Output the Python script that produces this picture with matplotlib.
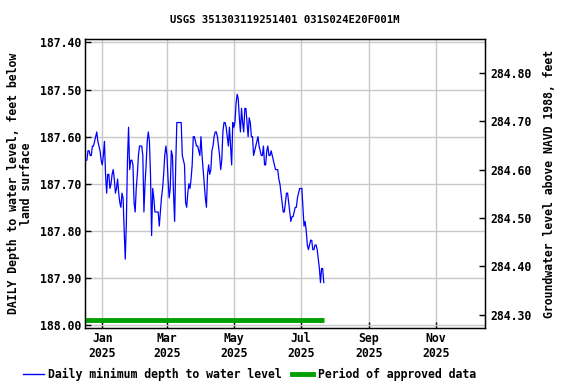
import matplotlib
matplotlib.use("Agg")
import matplotlib.pyplot as plt
import matplotlib.dates as mdates
from matplotlib.lines import Line2D
import pandas as pd
import numpy as np

title = "USGS 351303119251401 031S024E20F001M"
start_date = "2024-12-17"
depth = [
    187.65, 187.65, 187.63, 187.63, 187.64, 187.64, 187.62, 187.62, 187.61, 187.60,
    187.59, 187.61, 187.62, 187.63, 187.65, 187.66, 187.64, 187.61, 187.68, 187.72,
    187.68, 187.68, 187.71, 187.70, 187.68, 187.67, 187.69, 187.72, 187.71, 187.69,
    187.72, 187.74, 187.75, 187.72, 187.73, 187.80, 187.86, 187.78, 187.65, 187.58,
    187.67, 187.65, 187.65, 187.66, 187.74, 187.76, 187.71, 187.68, 187.64, 187.62,
    187.62, 187.62, 187.64, 187.76, 187.70, 187.66, 187.61, 187.59, 187.61, 187.68,
    187.81, 187.71, 187.73, 187.76, 187.76, 187.76, 187.76, 187.79, 187.76, 187.73,
    187.71, 187.68, 187.64, 187.62, 187.64, 187.69, 187.73, 187.71, 187.63, 187.64,
    187.72, 187.78, 187.66, 187.57, 187.57, 187.57, 187.57, 187.57, 187.64, 187.65,
    187.66, 187.74, 187.75, 187.72, 187.70, 187.71, 187.69, 187.66, 187.60, 187.60,
    187.61, 187.62, 187.62, 187.63, 187.64, 187.60, 187.64, 187.67, 187.70, 187.73,
    187.75, 187.68, 187.66, 187.68, 187.67, 187.63, 187.62, 187.60, 187.59, 187.59,
    187.60, 187.62, 187.64, 187.67, 187.65, 187.59, 187.57, 187.57, 187.58, 187.60,
    187.62, 187.58, 187.62, 187.66, 187.57, 187.58, 187.57, 187.53, 187.51, 187.52,
    187.56, 187.59, 187.54, 187.57, 187.59, 187.54, 187.54, 187.57, 187.60, 187.56,
    187.57, 187.60, 187.60, 187.64, 187.63, 187.62, 187.61, 187.60, 187.62, 187.63,
    187.64, 187.64, 187.62, 187.66, 187.66, 187.63, 187.62, 187.64, 187.64, 187.63,
    187.64, 187.65, 187.66, 187.67, 187.67, 187.67, 187.69, 187.70, 187.72, 187.74,
    187.76, 187.76, 187.74, 187.72, 187.72, 187.74, 187.76, 187.78, 187.77, 187.77,
    187.76, 187.75, 187.75, 187.73, 187.72, 187.71, 187.71, 187.71, 187.75, 187.79,
    187.78, 187.80, 187.83, 187.84, 187.83, 187.82, 187.82, 187.84, 187.84, 187.83,
    187.83, 187.84, 187.86, 187.88, 187.91, 187.88, 187.88, 187.91,
]
approved_start = "2024-12-16"
approved_end = "2025-07-22"
approved_level = 187.99

left_ticks = [187.40, 187.50, 187.60, 187.70, 187.80, 187.90, 188.00]
right_ticks = [284.30, 284.40, 284.50, 284.60, 284.70, 284.80]
x_tick_dates = ["2025-01-01", "2025-03-01", "2025-05-01", "2025-07-01", "2025-09-01", "2025-11-01"]

dates = pd.date_range(start_date, periods=len(depth), freq="D")

mono = "DejaVu Sans Mono"
fs = 8.3

fig = plt.figure(figsize=(5.76, 3.84), dpi=100)
ax = fig.add_axes([0.148, 0.145, 0.694, 0.753])

ax.plot(dates, depth, color="#0000ff", lw=0.9, zorder=3)
ax.plot(pd.to_datetime([approved_start, approved_end]), [approved_level, approved_level],
        color="#00a000", lw=3.5, solid_capstyle="butt", zorder=4)

ax.set_xlim(pd.Timestamp("2024-12-16 12:00"), pd.Timestamp("2025-12-16"))
ax.set_ylim(188.007, 187.393)
ax.set_yticks(left_ticks)
ax.set_yticklabels([f"{v:.2f}" for v in left_ticks], fontfamily=mono, fontweight="bold", fontsize=fs)
ax.set_xticks(pd.to_datetime(x_tick_dates))
ax.set_xticklabels([pd.Timestamp(d).strftime("%b\n%Y") for d in x_tick_dates],
                   fontfamily=mono, fontweight="bold", fontsize=fs)
ax.grid(True, color="#c8c8c8", lw=1.0)
ax.set_axisbelow(True)
ax.tick_params(direction="in", length=4, width=1, pad=3)
for s in ax.spines.values():
    s.set_linewidth(1.0)

ax.set_ylabel("DAILY Depth to water level, feet below\nland surface", fontfamily=mono,
              fontweight="bold", fontsize=fs, labelpad=5, linespacing=1.0)

ax2 = ax.twinx()
ax2.set_ylim(284.272, 284.870)
ax2.set_yticks(right_ticks)
ax2.set_yticklabels([f"{v:.2f}" for v in right_ticks], fontfamily=mono, fontweight="bold", fontsize=fs)
ax2.tick_params(direction="in", length=4, width=1, pad=4)
ax2.set_ylabel("Groundwater level above NAVD 1988, feet", fontfamily=mono,
               fontweight="bold", fontsize=fs, labelpad=8)

ax.set_title(title, fontfamily=mono, fontweight="bold", fontsize=7.7, pad=12)

handles = [Line2D([0], [0], color="#0000ff", lw=1),
           Line2D([0], [0], color="#00a000", lw=3.5)]
labels = ["Daily minimum depth to water level", "Period of approved data"]
fig.legend(handles, labels, loc="lower center", bbox_to_anchor=(0.433, -0.018), ncol=2,
           frameon=False, prop={"family": mono, "weight": "bold", "size": fs},
           handlelength=1.8, handletextpad=0.4, columnspacing=0.9)

fig.savefig("out.png", dpi=100)
